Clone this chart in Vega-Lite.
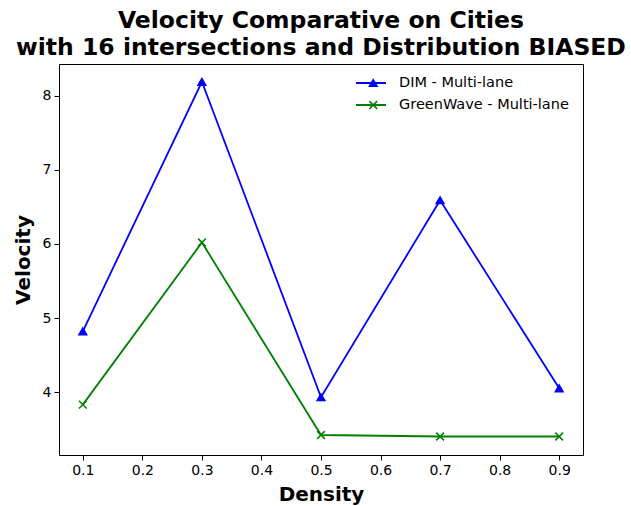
{
  "$schema": "https://vega.github.io/schema/vega-lite/v6.json",
  "width": 524,
  "height": 391,
  "autosize": {"type": "none"},
  "padding": {"left": 59, "top": 64, "right": 48, "bottom": 51},
  "background": "white",
  "config": {
    "font": "DejaVu Sans",
    "view": {"stroke": "#000", "strokeWidth": 1},
    "axis": {"grid": false, "domain": false, "tickColor": "#000", "tickSize": 5, "tickWidth": 1, "labelColor": "#000", "labelFontSize": 14, "labelFont": "DejaVu Sans", "titleFont": "DejaVu Sans", "titleFontSize": 20, "titleFontWeight": "bold", "titleColor": "#000", "labelPadding": 3}
  },
  "title": {
    "text": ["Velocity Comparative on Cities", "with 16 intersections and Distribution BIASED"],
    "font": "DejaVu Sans",
    "fontSize": 23.5,
    "fontWeight": "bold",
    "color": "#000",
    "lineHeight": 27,
    "anchor": "middle",
    "offset": 5
  },
  "data": {
    "values": [
      {"density": 0.1, "velocity": 4.82, "series": "DIM - Multi-lane"},
      {"density": 0.3, "velocity": 8.19, "series": "DIM - Multi-lane"},
      {"density": 0.5, "velocity": 3.93, "series": "DIM - Multi-lane"},
      {"density": 0.7, "velocity": 6.59, "series": "DIM - Multi-lane"},
      {"density": 0.9, "velocity": 4.05, "series": "DIM - Multi-lane"},
      {"density": 0.1, "velocity": 3.83, "series": "GreenWave - Multi-lane"},
      {"density": 0.3, "velocity": 6.02, "series": "GreenWave - Multi-lane"},
      {"density": 0.5, "velocity": 3.42, "series": "GreenWave - Multi-lane"},
      {"density": 0.7, "velocity": 3.40, "series": "GreenWave - Multi-lane"},
      {"density": 0.9, "velocity": 3.40, "series": "GreenWave - Multi-lane"}
    ]
  },
  "encoding": {
    "x": {"field": "density", "type": "quantitative", "title": "Density",
      "scale": {"domain": [0.06, 0.94], "nice": false, "zero": false},
      "axis": {"values": [0.1, 0.2, 0.3, 0.4, 0.5, 0.6, 0.7, 0.8, 0.9], "format": ".1f", "titlePadding": 7}},
    "y": {"field": "velocity", "type": "quantitative", "title": "Velocity",
      "scale": {"domain": [3.15, 8.43], "nice": false, "zero": false},
      "axis": {"values": [4, 5, 6, 7, 8], "format": "d", "titlePadding": 9}}
  },
  "layer": [
    {
      "mark": {"type": "line", "strokeWidth": 1.8},
      "encoding": {
        "color": {"field": "series", "type": "nominal",
          "scale": {"domain": ["DIM - Multi-lane", "GreenWave - Multi-lane"], "range": ["#0000ff", "#008000"]},
          "legend": {"orient": "none", "legendX": 296, "legendY": 11, "title": null, "symbolType": "stroke", "symbolSize": 900, "symbolStrokeWidth": 1.8, "clipHeight": 16, "rowPadding": 6, "labelOffset": 12, "labelFontSize": 14.5, "labelLimit": 400, "labelColor": "#000", "padding": 0}}
      }
    },
    {
      "mark": {"type": "point", "filled": true, "opacity": 1, "size": 60, "strokeWidth": 1.5},
      "encoding": {
        "shape": {"field": "series", "type": "nominal",
          "scale": {"range": ["triangle-up", "M-1,-1L1,1M-1,1L1,-1"]},
          "legend": {"orient": "none", "legendX": 307, "legendY": 11, "title": null, "symbolSize": 60, "symbolStrokeWidth": 1.5, "clipHeight": 16, "rowPadding": 6, "labelExpr": "''", "labelFontSize": 14.5, "padding": 0}},
        "fill": {"field": "series", "type": "nominal", "scale": {"range": ["#0000ff", "#008000"]}},
        "stroke": {"field": "series", "type": "nominal", "scale": {"range": ["#0000ff", "#008000"]}}
      }
    }
  ]
}
